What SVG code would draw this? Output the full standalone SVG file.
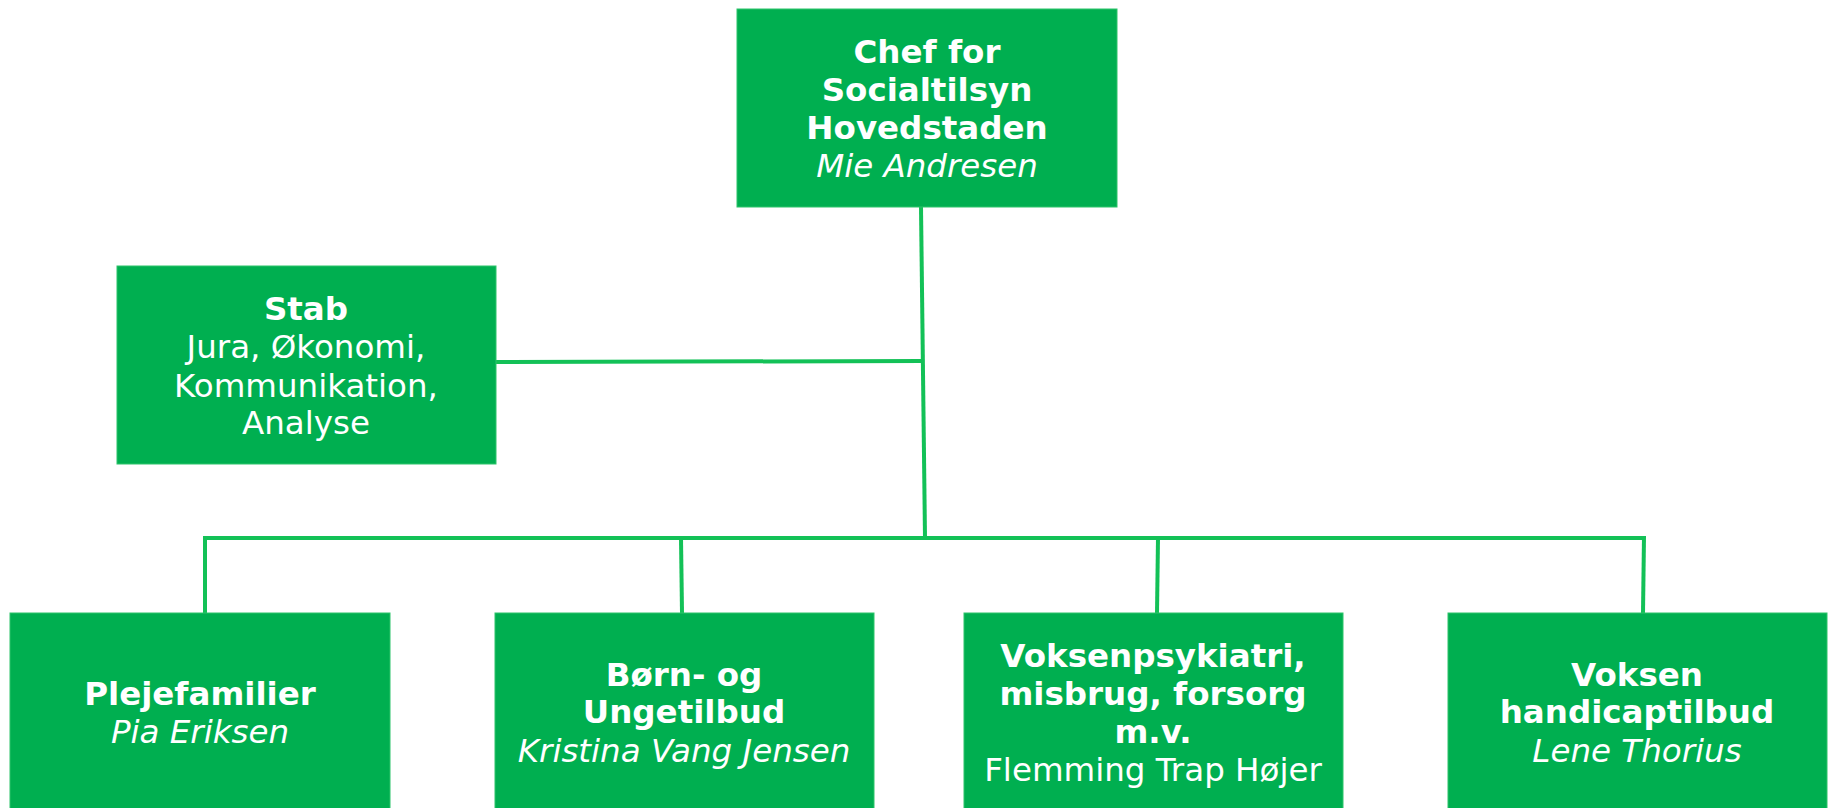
<svg xmlns="http://www.w3.org/2000/svg" width="1831" height="808" viewBox="0 0 1831 808">
<style>
.box{fill:#00AF50;stroke:#2CC46A;stroke-width:1}
.t{font-family:"DejaVu Sans",Verdana,sans-serif;font-size:32.5px;fill:#FFFFFF;text-anchor:middle}
.b{font-weight:bold}
.i{font-style:italic}
.c{stroke:#13C157;stroke-width:4;fill:none}
</style>
<rect width="1831" height="808" fill="#FFFFFF"/>
<g id="connectors">
<path class="c" d="M921,207 L925,538"/>
<path class="c" d="M496,362 L922,361"/>
<path class="c" d="M205,538 L1645,538"/>
<path class="c" d="M205,536 L205,613"/>
<path class="c" d="M681,538 L682,613"/>
<path class="c" d="M1158,538 L1157,613"/>
<path class="c" d="M1644,536 L1643,613"/>
</g>
<g id="chef">
<rect class="box" x="737" y="9" width="380" height="198"/>
<text class="t b" x="927" y="63">Chef for</text>
<text class="t b" x="927" y="101">Socialtilsyn</text>
<text class="t b" x="927" y="139">Hovedstaden</text>
<text class="t i" x="927" y="177">Mie Andresen</text>
</g>
<g id="stab">
<rect class="box" x="117" y="266" width="379" height="198"/>
<text class="t b" x="306" y="320">Stab</text>
<text class="t" x="306" y="358">Jura, Økonomi,</text>
<text class="t" x="306" y="397">Kommunikation,</text>
<text class="t" x="306" y="434">Analyse</text>
</g>
<g id="plejefamilier">
<rect class="box" x="10" y="613" width="380" height="198"/>
<text class="t b" x="200" y="705">Plejefamilier</text>
<text class="t i" x="200" y="743">Pia Eriksen</text>
</g>
<g id="born">
<rect class="box" x="495" y="613" width="379" height="198"/>
<text class="t b" x="684" y="686">Børn- og</text>
<text class="t b" x="684" y="723">Ungetilbud</text>
<text class="t i" x="684" y="762">Kristina Vang Jensen</text>
</g>
<g id="voksenpsykiatri">
<rect class="box" x="964" y="613" width="379" height="198"/>
<text class="t b" x="1153" y="667">Voksenpsykiatri,</text>
<text class="t b" x="1153" y="705">misbrug, forsorg</text>
<text class="t b" x="1153" y="743">m.v.</text>
<text class="t" x="1153" y="781">Flemming Trap Højer</text>
</g>
<g id="handicap">
<rect class="box" x="1448" y="613" width="379" height="198"/>
<text class="t b" x="1637" y="686">Voksen</text>
<text class="t b" x="1637" y="723">handicaptilbud</text>
<text class="t i" x="1637" y="762">Lene Thorius</text>
</g>
</svg>
